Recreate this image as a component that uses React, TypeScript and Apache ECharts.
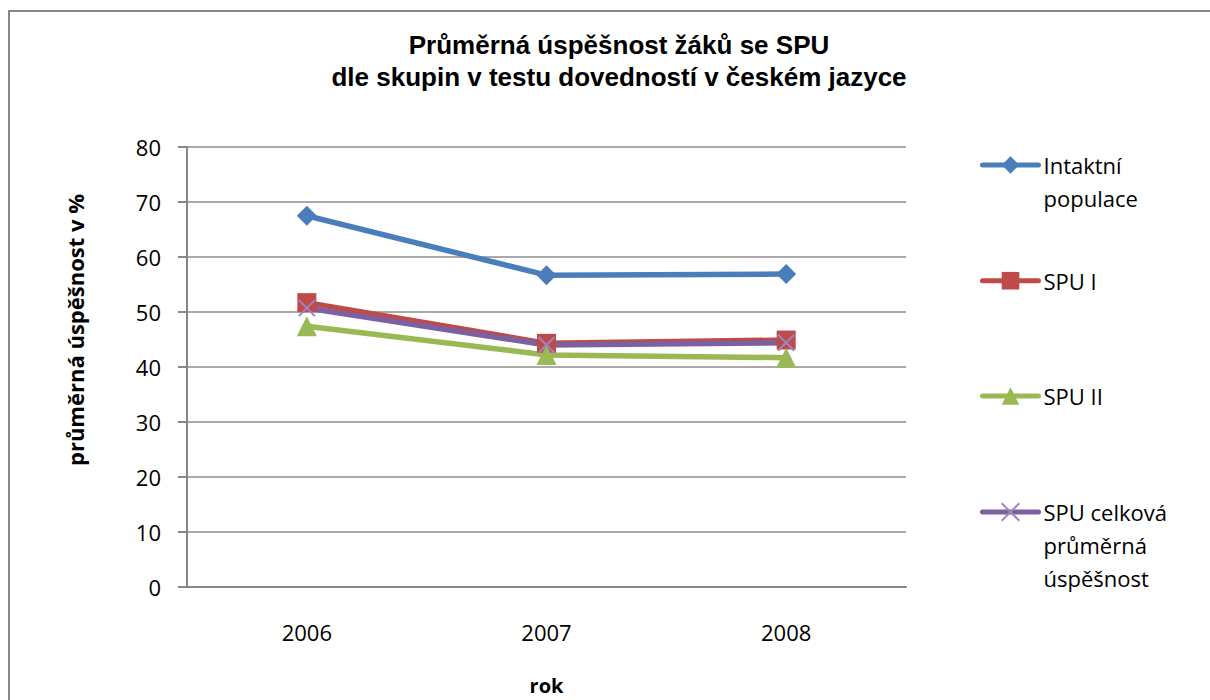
import React, { useEffect, useRef } from "react";
import * as echarts from "echarts";

const years = ["2006", "2007", "2008"];
const intaktni = [67.5, 56.7, 56.9];
const spu1 = [51.7, 44.3, 44.9];
const spu2 = [47.4, 42.2, 41.7];
const spuCelkova = [50.7, 44.0, 44.4];

const seriesNames = ["Intaktní populace", "SPU I", "SPU II", "SPU celková průměrná úspěšnost"];
const legendLabels = ["Intaktní\npopulace", "SPU I", "SPU II", "SPU celková\nprůměrná\núspěšnost"];
const colors = ["#4A7EBB", "#BE4B48", "#98B954", "#7D60A0"];
const yTicks = [0, 10, 20, 30, 40, 50, 60, 70, 80];

const titleText = "Průměrná úspěšnost žáků se SPU\ndle skupin v testu dovedností v českém jazyce";
const yName = "průměrná úspěšnost v %";
const xName = "rok";

const FONT = "'Open Sans', 'Noto Sans', sans-serif";

export default function App() {
  const ref = useRef<HTMLDivElement>(null);
  useEffect(() => {
    if (!ref.current) return;
    const chart = echarts.init(ref.current, null, { renderer: "svg" });
    const LH = 33;
    const symbols = ["diamond", "rect", "triangle", "path://M0,0L10,10M10,0L0,10"];
    const sizes = [20, 19, 20, 16];
    const data = [intaktni, spu1, spu2, spuCelkova];
    const iconCenters = [157, 272.7, 388, 504];
    const legends = seriesNames.map((name, i) => {
      const lines = legendLabels[i].split("\n").length;
      const label = "\n".repeat(lines - 1) + legendLabels[i];
      const H = (2 * lines - 1) * LH;
      return {
        orient: "vertical",
        left: 972,
        top: iconCenters[i] - H / 2,
        padding: 0,
        itemWidth: 56,
        itemHeight: 22,
        itemGap: 0,
        data: [name],
        formatter: () => label,
        lineStyle: { width: 5, cap: "round" },
        textStyle: {
          fontFamily: FONT,
          fontSize: 22,
          lineHeight: LH,
          color: "#000",
        },
      };
    });
    chart.setOption({
      animation: false,
      backgroundColor: "#fff",
      title: {
        text: titleText,
        left: 606,
        textAlign: "center",
        top: 16,
        textStyle: {
          fontFamily: "'Liberation Sans', Arial, sans-serif",
          fontWeight: "bold",
          fontSize: 26,
          lineHeight: 32,
          color: "#000",
        },
      },
      graphic: [
        {
          type: "line",
          shape: { x1: 1, y1: 3, x2: 1300, y2: 3 },
          style: { stroke: "#868686", lineWidth: 2 },
          silent: true,
        },
        {
          type: "line",
          shape: { x1: 1, y1: 2, x2: 1, y2: 900 },
          style: { stroke: "#868686", lineWidth: 2 },
          silent: true,
        },
        {
          type: "text",
          x: 67,
          y: 322,
          rotation: Math.PI / 2,
          style: {
            text: yName,
            align: "center",
            verticalAlign: "middle",
            fontFamily: FONT,
            fontWeight: "bold",
            fontSize: 22,
            fill: "#000",
          },
          silent: true,
        },
      ],
      legend: legends,
      grid: { left: 179, right: 304, top: 139, bottom: 106, containLabel: false },
      xAxis: {
        type: "category",
        data: years,
        boundaryGap: true,
        name: xName,
        nameLocation: "middle",
        nameGap: 88,
        nameTextStyle: { fontFamily: FONT, fontWeight: "bold", fontSize: 20, color: "#000" },
        axisLine: { lineStyle: { color: "#868686", width: 2 } },
        axisTick: { show: false },
        axisLabel: { fontFamily: FONT, fontSize: 22, color: "#000", margin: 34 },
        splitLine: { show: false },
      },
      yAxis: {
        type: "value",
        min: 0,
        max: 80,
        interval: 10,
        axisLine: { show: true, lineStyle: { color: "#868686", width: 2 } },
        axisTick: { show: true, length: 9, lineStyle: { color: "#868686", width: 2 } },
        axisLabel: {
          fontFamily: FONT,
          fontSize: 22,
          color: "#000",
          margin: 26,
          formatter: (v: number) => (yTicks.includes(v) ? String(v) : ""),
        },
        splitLine: { show: true, lineStyle: { color: "#8C8C8C", width: 1.5 } },
      },
      series: seriesNames.map((name, i) => ({
        name,
        type: "line",
        data: data[i],
        symbol: symbols[i],
        symbolSize: sizes[i],
        lineStyle: { width: 5.5, color: colors[i] },
        itemStyle:
          i === 3
            ? { color: "#9A86C4", borderColor: "#9A86C4", borderWidth: 2 }
            : { color: colors[i] },
        color: colors[i],
      })),
    });
    return () => chart.dispose();
  }, []);
  return (
    <div
      ref={ref}
      style={{ position: "absolute", left: 8, top: 8, width: 1202, height: 692 }}
    />
  );
}
